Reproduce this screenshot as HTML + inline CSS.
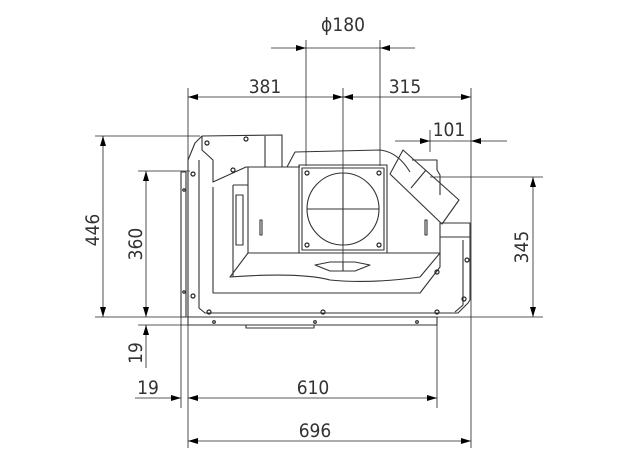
<!DOCTYPE html>
<html><head><style>html,body{margin:0;padding:0;background:#fff}svg{display:block}</style></head><body>
<svg width="624" height="460" viewBox="0 0 624 460" xmlns="http://www.w3.org/2000/svg">
<defs>
<marker id="a" viewBox="0 0 10 6" refX="10" refY="3" markerWidth="10" markerHeight="6" markerUnits="userSpaceOnUse" orient="auto"><path d="M0,0L10,3L0,6z" fill="#000"/></marker>
</defs>
<g stroke="#222" stroke-width="0.8" fill="none">
<line x1="306" y1="40" x2="306" y2="166"/>
<line x1="380" y1="40" x2="380" y2="166"/>
<line x1="343" y1="88" x2="343" y2="270"/>
<line x1="188" y1="88" x2="188" y2="448"/>
<line x1="471" y1="88" x2="471" y2="448"/>
<line x1="430" y1="130" x2="430" y2="152"/>
<line x1="181" y1="172" x2="181" y2="408"/>
<line x1="437" y1="320" x2="437" y2="408"/>
<line x1="95" y1="136" x2="200" y2="136"/>
<line x1="138" y1="171" x2="190" y2="171"/>
<line x1="430" y1="177" x2="543" y2="177"/>
<line x1="95" y1="317" x2="543" y2="317"/>
<line x1="138" y1="325" x2="188" y2="325"/>
<line x1="271" y1="48" x2="306" y2="48" marker-end="url(#a)"/>
<line x1="415" y1="48" x2="380" y2="48" marker-end="url(#a)"/>
<line x1="306" y1="48" x2="380" y2="48"/>
<line x1="265" y1="97" x2="188" y2="97" marker-end="url(#a)"/>
<line x1="265" y1="97" x2="343" y2="97" marker-end="url(#a)"/>
<line x1="405" y1="97" x2="343" y2="97" marker-end="url(#a)"/>
<line x1="405" y1="97" x2="471" y2="97" marker-end="url(#a)"/>
<line x1="395" y1="141" x2="430" y2="141" marker-end="url(#a)"/>
<line x1="507" y1="141" x2="471" y2="141" marker-end="url(#a)"/>
<line x1="430" y1="141" x2="471" y2="141"/>
<line x1="103" y1="226" x2="103" y2="136" marker-end="url(#a)"/>
<line x1="103" y1="226" x2="103" y2="317" marker-end="url(#a)"/>
<line x1="146" y1="244" x2="146" y2="171" marker-end="url(#a)"/>
<line x1="146" y1="244" x2="146" y2="317" marker-end="url(#a)"/>
<line x1="146" y1="368" x2="146" y2="325" marker-end="url(#a)"/>
<line x1="533" y1="247" x2="533" y2="177" marker-end="url(#a)"/>
<line x1="533" y1="247" x2="533" y2="317" marker-end="url(#a)"/>
<line x1="135" y1="398" x2="181" y2="398" marker-end="url(#a)"/>
<line x1="225" y1="398" x2="188" y2="398" marker-end="url(#a)"/>
<line x1="225" y1="398" x2="437" y2="398" marker-end="url(#a)"/>
<line x1="330" y1="441" x2="188" y2="441" marker-end="url(#a)"/>
<line x1="330" y1="441" x2="471" y2="441" marker-end="url(#a)"/>
</g>
<g stroke="#333" stroke-width="1.1" fill="none" stroke-linejoin="round">
<rect x="181" y="172" width="5" height="145"/>
<path d="M188,317 L188,160 L195,143 L202,136 L282,135 L282,167 L287,167 L295,152 L380,150 Q398,152 410,172"/>
<line x1="202" y1="136" x2="202" y2="145"/>
<path d="M202,145 L202,150 L213,160 L213,182 L246,167 L300,167"/>
<line x1="265" y1="136" x2="265" y2="167"/>
<path d="M199,160 L199,308 L205,313 L458,313 L468,303 L470,300 L470,240"/>
<path d="M213,187 L213,293 L420,293 L440,267 L440,223 L470,223 L470,240"/>
<path d="M403,150 L459,200 L442,224 L390,174 Z"/>
<line x1="426" y1="170" x2="411" y2="188"/>
<path d="M412,160 L437,160 L437,170 L440,175 L440,195"/>
<line x1="440" y1="237" x2="470" y2="237"/>
<path d="M233,185 L233,277 M248,167 L248,253 M233,185 L248,185"/>
<path d="M236,195 L243,195 L243,245 L236,245 Z"/>
<path d="M248,253 L230,277 Q300,272 330,280 Q370,284 420,277 L440,253 Z" />
<line x1="248" y1="253" x2="440" y2="253"/>
<path d="M315,265 L330,262 L355,262 L370,265 L355,271 L330,271 Z"/>
<line x1="343" y1="262" x2="343" y2="271"/>
<rect x="299" y="165" width="88" height="88"/>
<rect x="302" y="168" width="82" height="82"/>
<circle cx="343" cy="209" r="36"/>
<line x1="307" y1="209" x2="379" y2="209"/>
<line x1="343" y1="173" x2="343" y2="245"/>
<path d="M188,317 L437,317 L437,325 L188,325 Z"/>
<path d="M246,325 L246,328 L314,328 L314,325"/>
<path d="M463,240 L463,305 L455,312"/>
<rect x="260" y="220" width="2" height="15"/>
<rect x="425" y="220" width="2" height="15"/>
</g>
<g stroke="#222" stroke-width="1.2" fill="none">
<circle cx="207" cy="143" r="2"/><circle cx="246" cy="139" r="2"/><circle cx="233" cy="170" r="2"/>
<circle cx="193" cy="174" r="2"/><circle cx="193" cy="296" r="2"/>
<circle cx="307" cy="173" r="2"/><circle cx="379" cy="173" r="2"/>
<circle cx="307" cy="245" r="2"/><circle cx="379" cy="245" r="2"/>
<circle cx="209" cy="312" r="2"/><circle cx="323" cy="312" r="2"/><circle cx="437" cy="312" r="2"/>
<circle cx="467" cy="260" r="2"/><circle cx="437" cy="272" r="2"/><circle cx="464" cy="299" r="2"/>
<circle cx="214" cy="322" r="1.3"/><circle cx="315" cy="322" r="1.3"/><circle cx="417" cy="322" r="1.3"/>
<circle cx="184" cy="190" r="1.2"/><circle cx="184" cy="292" r="1.2"/>
</g>
<g font-family="'DejaVu Sans Condensed','Liberation Sans Narrow','Liberation Sans',sans-serif" font-size="19" fill="#333" text-anchor="middle">
<text x="343" y="31">ϕ180</text>
<text x="265" y="93">381</text>
<text x="405" y="93">315</text>
<text x="449" y="136">101</text>
<text x="148" y="394">19</text>
<text x="313" y="394">610</text>
<text x="315" y="437">696</text>
<text transform="translate(99,230) rotate(-90)">446</text>
<text transform="translate(142,244) rotate(-90)">360</text>
<text transform="translate(142,353) rotate(-90)">19</text>
<text transform="translate(528,247) rotate(-90)">345</text>
</g>
</svg>
</body></html>
